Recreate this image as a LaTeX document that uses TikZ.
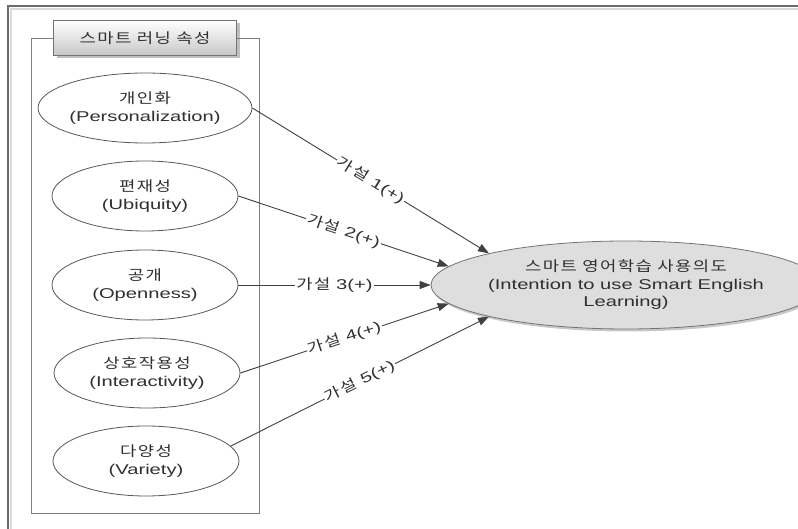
\documentclass[tikz,border=0pt]{standalone}
\usepackage{fontspec}
\setmainfont{Liberation Sans}[FakeStretch=1.42]
\newfontfamily\kr{Noto Sans CJK KR}[FakeStretch=1.25,LetterSpace=10]
\usetikzlibrary{shapes.geometric,arrows.meta,shadows}
\definecolor{txt}{HTML}{303030}
\begin{document}
\begin{tikzpicture}[x=1pt,y=-1pt,
  lbl/.style={font=\fontsize{14.2}{17.5}\selectfont, text=txt},
  attr/.style={lbl, ellipse, draw=black!65, line width=0.8pt, fill=white,
    minimum width=186pt, minimum height=70pt, inner sep=0pt, align=center},
  goal/.style={lbl, ellipse, draw=black!55, line width=0.8pt, fill=black!13,
    minimum width=322pt, minimum height=88pt, inner sep=0pt, align=center,
    drop shadow={shadow xshift=1.5pt, shadow yshift=-2.5pt, opacity=0.35, fill=black!60}},
  header/.style={lbl, rectangle, draw=black!55, line width=0.7pt,
    top color=white, bottom color=black!22,
    minimum width=183pt, minimum height=35pt, inner sep=0pt,
    drop shadow={shadow xshift=3pt, shadow yshift=-3pt, opacity=0.45, fill=black!55}},
  link/.style={draw=black!75, line width=0.9pt, -{Triangle[length=11pt,width=8pt]}},
  hyp/.style={lbl, midway, sloped, fill=white, inner sep=1.2pt}
]
\useasboundingbox (0,0) rectangle (798,529);
\fill[white] (0,0) rectangle (798,529);
% outer frame
\draw[black!15, line width=2pt] (11,529) -- (11,9) -- (798,9);
\draw[black!58, line width=2.2pt] (8,529) -- (8,6) -- (798,6);
% inner box
\draw[black!50, line width=0.8pt] (31,38) rectangle (259,513);
\node[header] (h) at (145,38) {\kr 스마트 러닝 속성};
% attribute ellipses
\node[attr] (e1) at (145,108) {{\kr 개인화}\\(Personalization)};
\node[attr] (e2) at (145,196) {{\kr 편재성}\\(Ubiquity)};
\node[attr] (e3) at (145,285) {{\kr 공개}\\(Openness)};
\node[attr] (e4) at (147,373) {{\kr 상호작용성}\\(Interactivity)};
\node[attr] (e5) at (146,461) {{\kr 다양성}\\(Variety)};
% target
\node[goal] (t) at (626,285) {{\kr 스마트 영어학습 사용의도}\\(Intention to use Smart English\\Learning)};
% connectors
\draw[link] (e1.east) -- node[hyp] {{\kr 가설} 1(+)} (t.167);
\draw[link] (e2.east) -- node[hyp] {{\kr 가설} 2(+)} (t.174);
\draw[link] (e3.east) -- node[hyp] {{\kr 가설} 3(+)} (t.west);
\draw[link] (e4.east) -- node[hyp] {{\kr 가설} 4(+)} (t.186);
\draw[link] (e5.10) -- node[hyp] {{\kr 가설} 5(+)} (t.193);
\end{tikzpicture}
\end{document}
